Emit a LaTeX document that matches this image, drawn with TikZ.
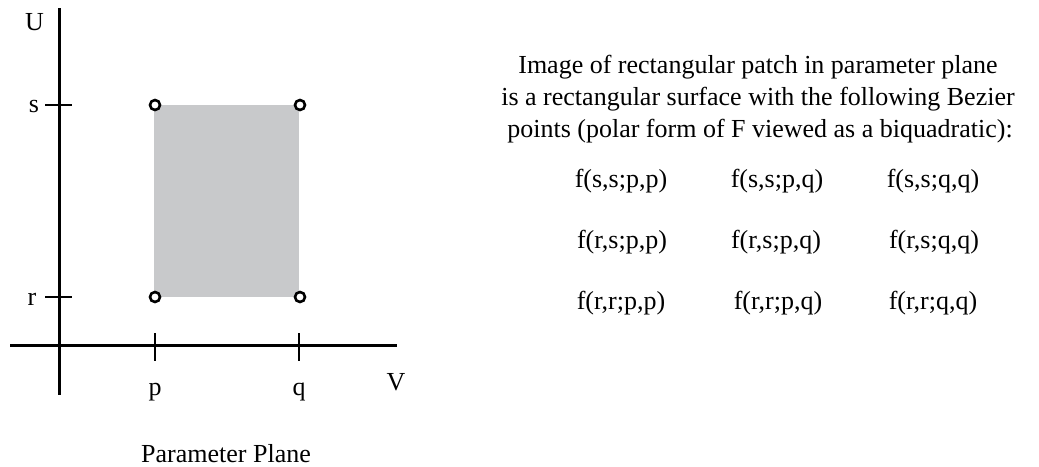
\documentclass[tikz,border=0pt]{standalone}
\usepackage{fontspec}
\setmainfont{Liberation Serif}
\definecolor{patchgray}{RGB}{200,201,203}
\tikzset{
  axisline/.style={line width=3pt, black},
  tickline/.style={line width=2.8pt, black},
  corner/.style={circle, draw=black, fill=white, line width=2.6pt, minimum size=10pt, inner sep=0pt},
  lbl/.style={anchor=base, inner sep=0pt, font=\fontsize{26}{31}\selectfont},
}
\begin{document}
\begin{tikzpicture}[x=1pt,y=-1pt]
\useasboundingbox (0,0) rectangle (1039,466);
% patch
\coordinate (pr) at (154,297);
\coordinate (qs) at (299,105);
\fill[patchgray] (pr) rectangle (qs);
% axes
\coordinate (vtop) at (59.5,8);
\coordinate (vbot) at (59.5,395);
\coordinate (hleft) at (10,345);
\coordinate (hright) at (397,345);
\draw[axisline] (vtop) -- (vbot);
\draw[axisline] (hleft) -- (hright);
% ticks
\coordinate (s1) at (45,105); \coordinate (s2) at (72,105);
\coordinate (r1) at (45,297); \coordinate (r2) at (72,297);
\coordinate (p1) at (155,333); \coordinate (p2) at (155,361);
\coordinate (q1) at (299,333); \coordinate (q2) at (299,361);
\draw[tickline] (s1) -- (s2);
\draw[tickline] (r1) -- (r2);
\draw[tickline] (p1) -- (p2);
\draw[tickline] (q1) -- (q2);
% corners
\node[corner] (cps) at (155,105) {};
\node[corner] (cqs) at (300,105) {};
\node[corner] (cpr) at (155,297) {};
\node[corner] (cqr) at (300,297) {};
% axis labels
\node[lbl] (U) at (34.5,30) {U};
\node[lbl] (slab) at (34,112) {s};
\node[lbl] (rlab) at (32,305) {r};
\node[lbl] (plab) at (155,395) {p};
\node[lbl] (qlab) at (299,395) {q};
\node[lbl] (V) at (396,390) {V};
\node[lbl] (cap) at (226,462) {Parameter Plane};
% description
\node[lbl] (d1) at (758,73) {Image of rectangular patch in parameter plane};
\node[lbl] (d2) at (758,105) {is a rectangular surface with the following Bezier};
\node[lbl] (d3) at (760,137) {points (polar form of F viewed as a biquadratic):};
% table
\node[lbl] (a11) at (621,187) {f(s,s;p,p)};
\node[lbl] (a12) at (777,187) {f(s,s;p,q)};
\node[lbl] (a13) at (933,187) {f(s,s;q,q)};
\node[lbl] (a21) at (622,248) {f(r,s;p,p)};
\node[lbl] (a22) at (776,248) {f(r,s;p,q)};
\node[lbl] (a23) at (934,248) {f(r,s;q,q)};
\node[lbl] (a31) at (621,309) {f(r,r;p,p)};
\node[lbl] (a32) at (778,309) {f(r,r;p,q)};
\node[lbl] (a33) at (933,309) {f(r,r;q,q)};
\end{tikzpicture}
\end{document}
